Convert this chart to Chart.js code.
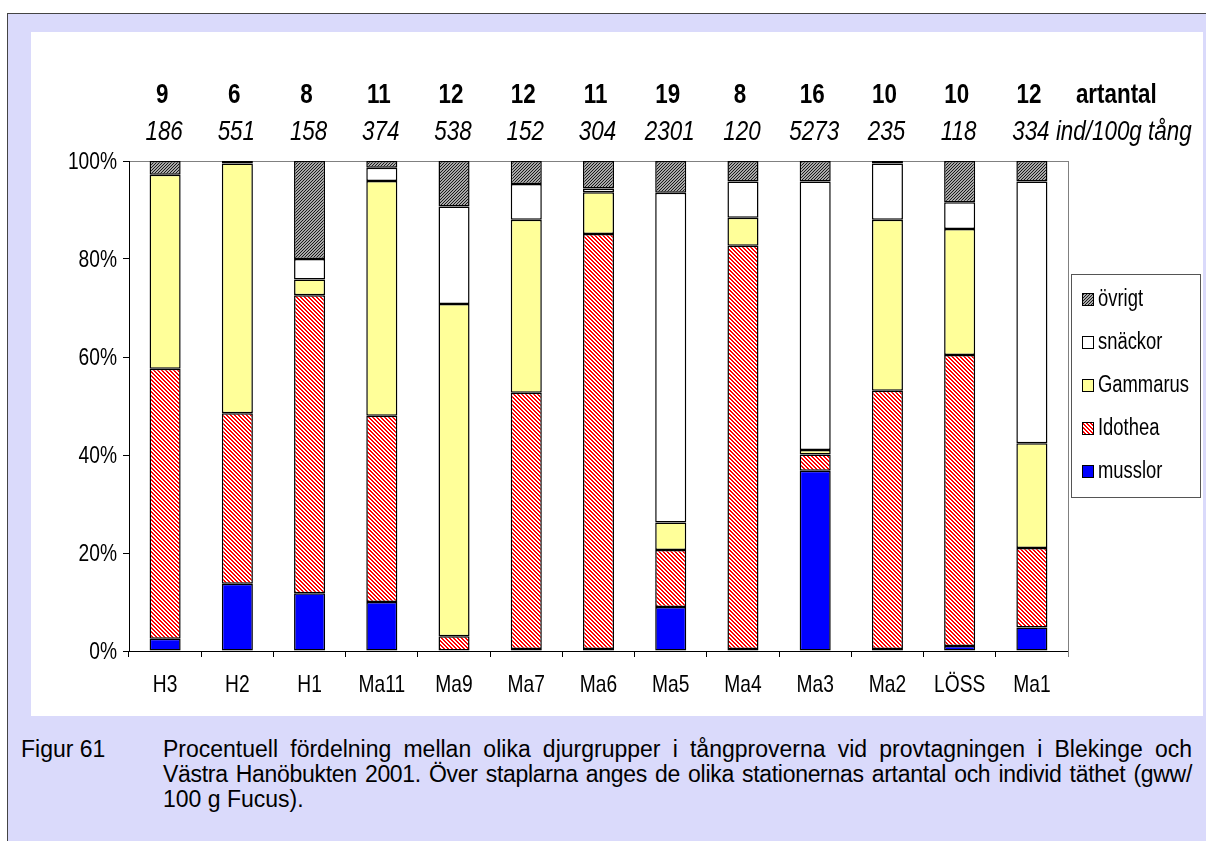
<!DOCTYPE html>
<html>
<head>
<meta charset="utf-8">
<script src="https://cdn.jsdelivr.net/npm/chart.js@4.4.1/dist/chart.umd.min.js"></script>
<style>
  body { margin: 0; background: #fff; width: 1206px; height: 841px; overflow: hidden; position: relative; font-family: "Liberation Sans", Arial, sans-serif; }
  #frame { position: absolute; left: 7px; top: 13px; width: 1205px; height: 840px; background: #dadafb; border-left: 1px solid #444; border-top: 1px solid #444; }
  #panel { position: absolute; left: 31px; top: 32px; width: 1172px; height: 684px; background: #fff; }
  #caption { position: absolute; left: 21px; top: 737px; font-size: 23px; line-height: 25px; color: #000; white-space: nowrap; }
  #caption .fig { position: absolute; left: 0; top: 0; }
  #caption .txt { position: absolute; left: 142px; top: 0; width: 1029px; }
  #caption .txt div { text-align: justify; text-align-last: justify; }
  #caption .txt div.tight { letter-spacing: -0.3px; word-spacing: -1px; }
  #caption .txt div.last { text-align-last: left; }
</style>
</head>
<body>
<div id="frame"></div>
<div id="panel"><canvas id="chart" width="1172" height="684"></canvas></div>
<div id="caption">
  <div class="fig">Figur 61</div>
  <div class="txt">
    <div>Procentuell fördelning mellan olika djurgrupper i tångproverna vid provtagningen i Blekinge och</div>
    <div class="tight">Västra Hanöbukten 2001. Över staplarna anges de olika stationernas artantal och individ täthet (gww/</div>
    <div class="last">100 g Fucus).</div>
  </div>
</div>
<script>
var FONT = "'Liberation Sans', Arial, sans-serif";
var SQUEEZE = 0.8;

var stations = ['H3', 'H2', 'H1', 'Ma11', 'Ma9', 'Ma7', 'Ma6', 'Ma5', 'Ma4', 'Ma3', 'Ma2', 'LÖSS', 'Ma1'];
var artantal = [9, 6, 8, 11, 12, 12, 11, 19, 8, 16, 10, 10, 12];
var individer = [186, 551, 158, 374, 538, 152, 304, 2301, 120, 5273, 235, 118, 334];

// percent per group, bottom to top
var musslor  = [2.5, 13.7, 11.8, 10.0, 0.0, 0.4, 0.4, 9.0, 0.4, 36.8, 0.4, 1.0, 4.8];
var idothea  = [55.1, 34.8, 60.8, 38.0, 3.0, 52.3, 84.7, 11.6, 82.3, 3.3, 52.7, 59.4, 16.2];
var gammarus = [39.6, 51.0, 3.2, 47.9, 67.8, 35.3, 8.5, 5.6, 5.7, 0.9, 34.9, 25.7, 21.4];
var snackor  = [0.0, 0.0, 4.2, 2.7, 19.9, 7.3, 0.8, 67.3, 7.4, 54.8, 11.5, 5.5, 53.4];
var ovrigt   = [2.8, 0.5, 20.0, 1.4, 9.3, 4.7, 5.6, 6.5, 4.2, 4.2, 0.5, 8.4, 4.2];

var yTicks = [0, 20, 40, 60, 80, 100];

function pixelPattern(size, test, on, off) {
	var c = document.createElement('canvas');
	c.width = c.height = size;
	var g = c.getContext('2d');
	for (var y = 0; y < size; y++) {
		for (var x = 0; x < size; x++) {
			g.fillStyle = test(x, y) ? on : off;
			g.fillRect(x, y, 1, 1);
		}
	}
	return g.createPattern(c, 'repeat');
}

var redHatch = pixelPattern(4, function(x, y) { return ((x - y + 8) % 4) < 2; }, '#ff0000', '#ffffff');
var greyHatch = pixelPattern(3, function(x, y) { return (x + y) % 3 === 0; }, '#1a1a1a', '#a8a8a8');

// the original text is a horizontally squeezed Arial
function squeezed(ctx, text, x, y, font, align) {
	ctx.save();
	ctx.translate(x, y);
	ctx.scale(SQUEEZE, 1);
	ctx.font = font;
	ctx.textAlign = align;
	ctx.textBaseline = 'alphabetic';
	ctx.fillStyle = '#000';
	ctx.fillText(text, 0, 0);
	ctx.restore();
}

var textLayer = {
	id: 'textLayer',
	afterDraw: function(chart) {
		var ctx = chart.ctx, x = chart.scales.x, y = chart.scales.y, a = chart.chartArea;
		var bold = 'bold 28px ' + FONT, ital = 'italic 28px ' + FONT, tick = '24px ' + FONT;
		var last = x.getPixelForValue(stations.length - 1);
		artantal.forEach(function(v, i) { squeezed(ctx, String(v), x.getPixelForValue(i) - 3, 71, bold, 'center'); });
		individer.forEach(function(v, i) { squeezed(ctx, String(v), x.getPixelForValue(i) - 1, 108, ital, 'center'); });
		squeezed(ctx, 'artantal', last + 44, 71, bold, 'left');
		squeezed(ctx, 'ind/100g tång', last + 24, 108, ital, 'left');
		// category labels
		stations.forEach(function(s, i) { squeezed(ctx, s, x.getPixelForValue(i), a.bottom + 41, tick, 'center'); });
		// percent labels
		yTicks.forEach(function(v) { squeezed(ctx, v + '%', a.left - 12, y.getPixelForValue(v) + 8, tick, 'right'); });

		ctx.save();
		// right border of plot area
		ctx.strokeStyle = '#808080';
		ctx.lineWidth = 1;
		ctx.beginPath();
		ctx.moveTo(a.right + 0.5, a.top);
		ctx.lineTo(a.right + 0.5, a.bottom + 6);
		ctx.stroke();
		// legend box
		var bx = a.right + 3, by = 242, bw = 129, bh = 223;
		ctx.strokeStyle = '#555';
		ctx.strokeRect(bx + 0.5, by + 0.5, bw, bh);
		var ds = chart.data.datasets.slice().reverse();
		ds.forEach(function(d, i) {
			var cy = by + 25 + i * 43;
			ctx.fillStyle = d.backgroundColor;
			ctx.fillRect(bx + 11, cy - 6, 11, 12);
			ctx.strokeStyle = '#000';
			ctx.strokeRect(bx + 11.5, cy - 5.5, 11, 12);
			squeezed(ctx, d.label, bx + 27, cy + 7, '23px ' + FONT, 'left');
		});
		ctx.restore();
	}
};

function makeSet(label, values, fill) {
	return {
		label: label,
		data: values,
		backgroundColor: fill,
		borderColor: '#000',
		borderWidth: 1.5,
		borderSkipped: false,
		barPercentage: 0.43,
		categoryPercentage: 1
	};
}

var stackChart = {
	type: 'bar',
	data: {
		labels: stations,
		datasets: [
			makeSet('musslor', musslor, '#0000ff'),
			makeSet('Idothea', idothea, redHatch),
			makeSet('Gammarus', gammarus, '#ffff99'),
			makeSet('snäckor', snackor, '#ffffff'),
			makeSet('övrigt', ovrigt, greyHatch)
		]
	},
	options: {
		responsive: false,
		animation: false,
		layout: { padding: { top: 129, right: 135, left: 0, bottom: 0 } },
		plugins: {
			legend: { display: false },
			tooltip: { enabled: false }
		},
		scales: {
			x: {
				stacked: true,
				grid: { offset: true, drawOnChartArea: false, tickLength: 6, tickColor: '#000' },
				border: { color: '#000', width: 1 },
				ticks: { display: false },
				afterFit: function(s) { s.height = 65; }
			},
			y: {
				stacked: true,
				min: 0,
				max: 100,
				afterBuildTicks: function(s) { s.ticks = yTicks.map(function(v) { return { value: v }; }); },
				grid: {
					color: function(c) { return c.tick && c.tick.value === 100 ? '#808080' : 'rgba(0,0,0,0)'; },
					tickColor: '#000',
					tickLength: 6
				},
				border: { color: '#000', width: 1 },
				ticks: { display: false },
				afterFit: function(s) { s.width = 98; }
			}
		}
	},
	plugins: [textLayer]
};

window.onload = function() {
	var ctx = document.getElementById('chart').getContext('2d');
	window.myBars = new Chart(ctx, stackChart);
};
</script>
</body>
</html>
